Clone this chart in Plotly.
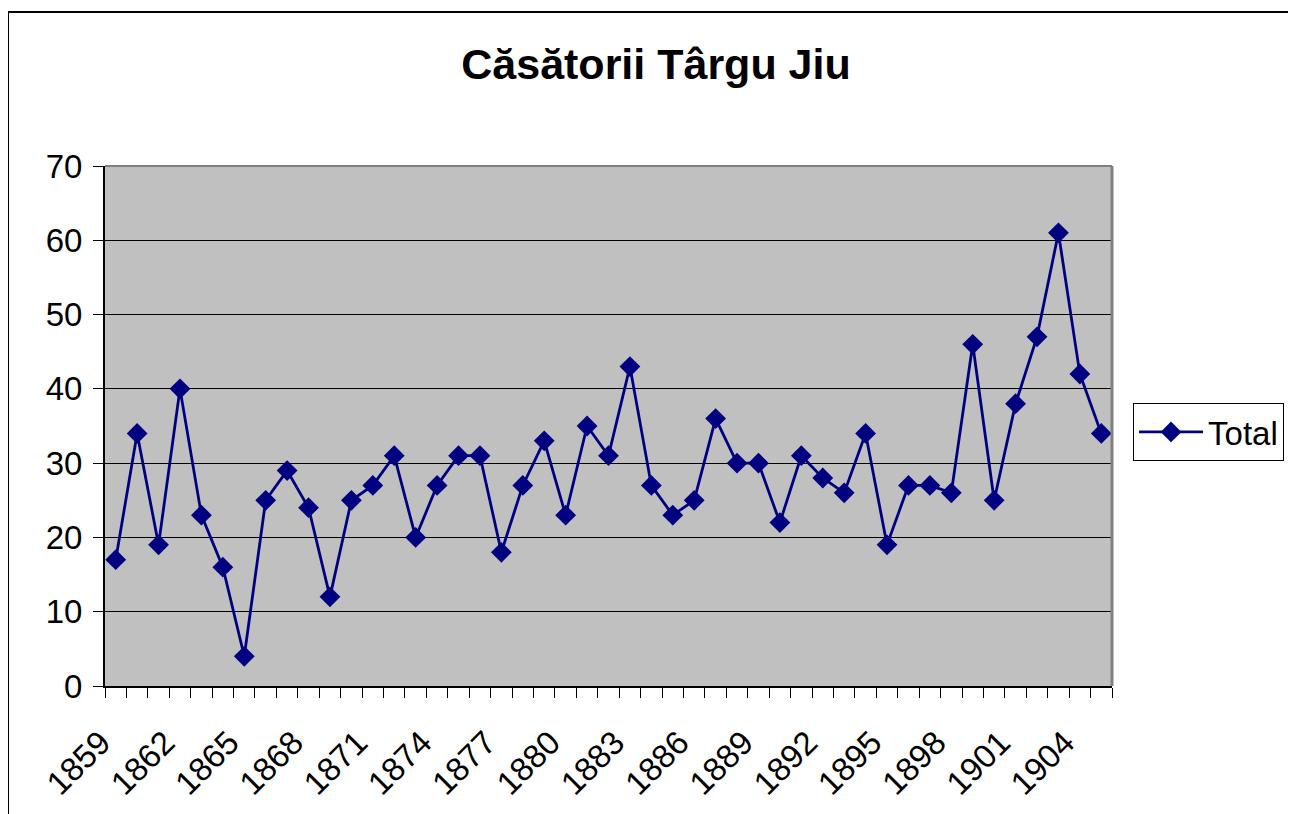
import plotly.graph_objects as go

years = list(range(1859, 1906))
totals = [17, 34, 19, 40, 23, 16, 4, 25, 29, 24, 12, 25, 27, 31, 20, 27, 31, 31, 18, 27,
          33, 23, 35, 31, 43, 27, 23, 25, 36, 30, 30, 22, 31, 28, 26, 34, 19, 27, 27, 26,
          46, 25, 38, 47, 61, 42, 34]
label_years = list(range(1859, 1906, 3))
series_name = "Total"
title_text = "Căsătorii Târgu Jiu"

FONT = "Arial, 'Liberation Sans', sans-serif"
NAVY = "#000080"

# the page body has an 8px margin; figure size and margins compensate for it
fig = go.Figure()
fig.add_trace(go.Scatter(
    x=years, y=totals, mode="lines+markers", name=series_name,
    line=dict(color=NAVY, width=2.8),
    marker=dict(symbol="diamond", size=16, color=NAVY),
))

fig.update_layout(
    width=1288, height=806,
    margin=dict(l=97, r=184, t=158, b=128, autoexpand=False),
    paper_bgcolor="white",
    plot_bgcolor="#C0C0C0",
    font=dict(family=FONT, size=33, color="black"),
    title=dict(text=f"<b>{title_text}</b>", x=648 / 1288, xref="container", xanchor="center",
               y=1 - 56 / 806, yref="container", yanchor="middle",
               font=dict(family=FONT, size=43, color="black")),
    showlegend=True,
    legend=dict(x=1.0209, y=0.5442, xanchor="left", yanchor="top",
                bgcolor="white", bordercolor="black", borderwidth=1,
                itemwidth=64,
                font=dict(family=FONT, size=33, color="black")),
    xaxis=dict(
        range=[1858.5, 1905.5], tickmode="array", tickvals=label_years,
        ticktext=[str(y) for y in label_years], tickangle=-45, ticks="",
        ticklabelstandoff=22, ticklabelshift=-15,
        showgrid=False, zeroline=False, showline=True, linecolor="black", linewidth=2,
        minor=dict(tick0=1858.5, dtick=1, ticks="outside", ticklen=10,
                   tickcolor="black", tickwidth=1, showgrid=False),
        tickfont=dict(family=FONT, size=33, color="black"),
    ),
    yaxis=dict(
        range=[0, 70], dtick=10, ticks="outside", ticklen=10, tickcolor="black",
        showgrid=True, gridcolor="black", gridwidth=1, zeroline=False,
        showline=True, linecolor="black", linewidth=2, ticklabelstandoff=4,
        tickfont=dict(family=FONT, size=33, color="black"),
    ),
    shapes=[
        dict(type="line", xref="paper", yref="paper", x0=0, x1=1, y0=1, y1=1,
             line=dict(color="#808080", width=2)),
        dict(type="line", xref="paper", yref="paper", x0=1, x1=1, y0=0, y1=1,
             line=dict(color="#808080", width=3)),
        dict(type="line", xref="paper", yref="paper", x0=-0.0963, x1=1.3,
             y0=1.2962, y1=1.2962, line=dict(color="black", width=2)),
        dict(type="line", xref="paper", yref="paper", x0=-0.0963, x1=-0.0963,
             y0=-0.3, y1=1.2962, line=dict(color="black", width=2)),
    ],
)

fig.write_html("out.html")
